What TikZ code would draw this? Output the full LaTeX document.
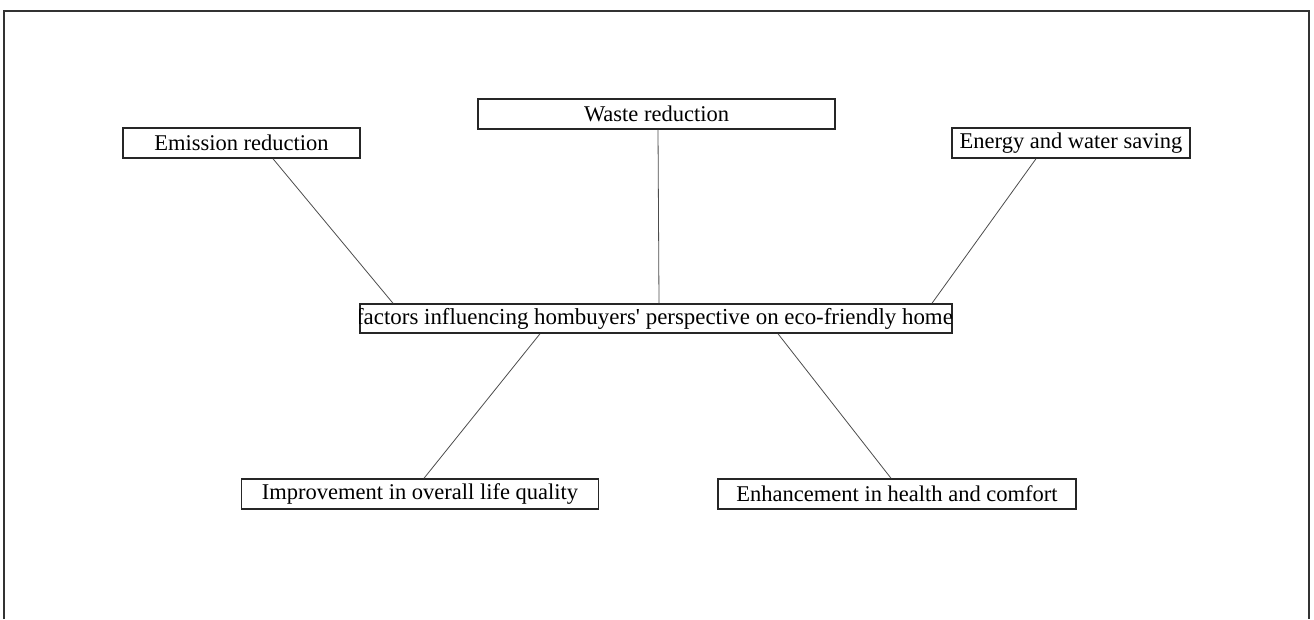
\documentclass[tikz,border=0pt]{standalone}
\usepackage{fontspec}
\setmainfont{Liberation Serif}
\begin{document}
\begin{tikzpicture}[x=1pt,y=-1pt,
  box/.style={draw=black!85, line width=1.5pt, inner sep=0pt, minimum height=30pt,
    font=\fontsize{22.5}{27}\selectfont},
  txt/.style={inner sep=0pt, font=\fontsize{22.9}{27.5}\selectfont},
  link/.style={draw=black!70, line width=0.8pt},
  frame/.style={draw=black!80, line width=1.6pt}]
\useasboundingbox (0,0) rectangle (1314,619);
\draw[frame] (4,619) -- (4,11) -- (1309,11) -- (1309,619);
\node[box, minimum width=237pt] (emis) at (241.5,143) {Emission reduction};
\node[box, minimum width=357pt] (waste) at (656.5,114) {Waste reduction};
\node[box, minimum width=238pt] (energy) at (1071,143) {Energy and water saving};
\node[box, minimum width=357pt] (life) at (420,494) {Improvement in overall life quality};
\node[box, minimum width=358pt] (health) at (897,494) {Enhancement in health and comfort};
\node[box, minimum width=592pt, minimum height=29pt] (c) at (656,318.5) {};
\begin{scope}
  \clip (c.south west) rectangle (c.north east);
  \node[txt] (ctext) at ([xshift=-1.5pt,yshift=-0.5pt]c.center) {factors influencing hombuyers\textquotesingle{} perspective on eco-friendly home};
\end{scope}
\draw[link] ([xshift=31.5pt]emis.south) -- ([xshift=-263pt]c.north);
\draw[link] ([xshift=1.5pt]waste.south) -- ([xshift=3pt]c.north);
\draw[link] ([xshift=-35pt]energy.south) -- ([xshift=276pt]c.north);
\draw[link] ([xshift=-116pt]c.south) -- ([xshift=4pt]life.north);
\draw[link] ([xshift=122pt]c.south) -- ([xshift=-6pt]health.north);
\end{tikzpicture}
\end{document}
